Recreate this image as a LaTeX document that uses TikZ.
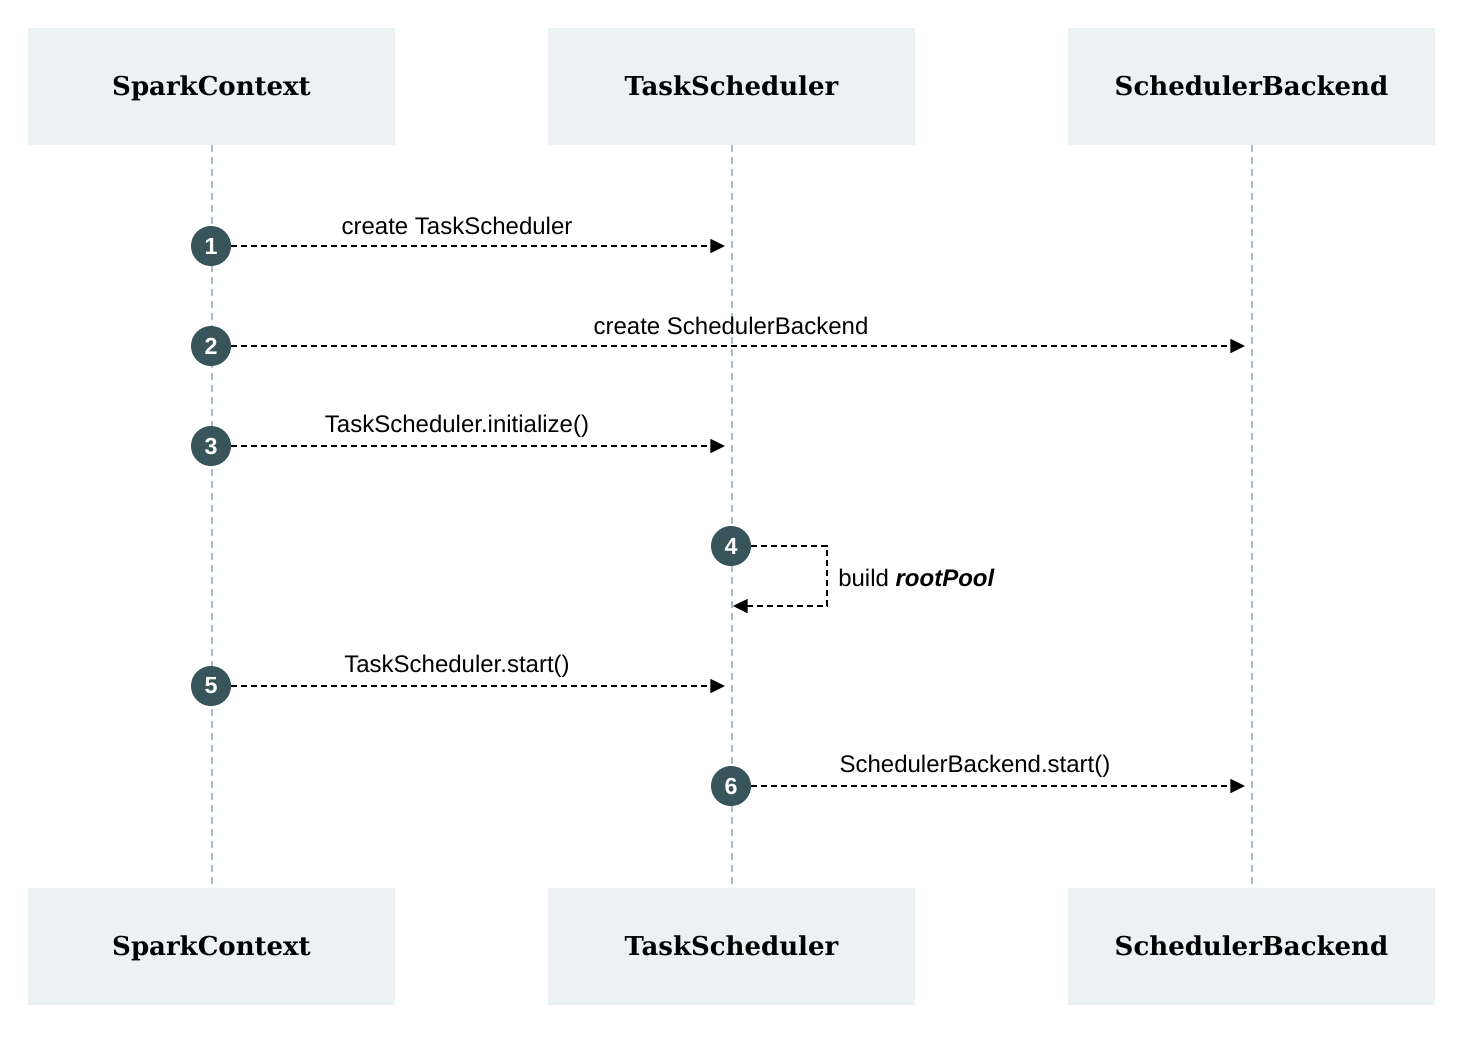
\documentclass[tikz,border=0pt]{standalone}
\usepackage{fontspec}
\setmainfont{Liberation Sans}
\newfontfamily\titlefont{DejaVu Serif}
\usetikzlibrary{arrows.meta}
\definecolor{boxfill}{HTML}{ECF1F4}
\definecolor{stepfill}{HTML}{37555A}
\definecolor{lifecol}{HTML}{A6BFCD}
\tikzset{
  actor/.style={fill=boxfill, draw=none, minimum width=275.25pt, minimum height=87.75pt, inner sep=0pt, text height=15pt, text depth=2pt, font=\titlefont\bfseries\fontsize{19.5}{22}\selectfont},
  lifeline/.style={draw=lifecol, line width=1.5pt, dash pattern=on 5pt off 4pt},
  stepnum/.style={circle, fill=stepfill, minimum size=30pt, inner sep=0pt, text=white, font=\bfseries\fontsize{17.5}{20}\selectfont},
  msg/.style={line width=1.1pt, dash pattern=on 4.5pt off 3pt, -{Triangle[length=11pt, width=10.5pt]}},
  msglabel/.style={font=\fontsize{18}{21}\selectfont, inner sep=0pt}
}
\begin{document}
\begin{tikzpicture}[x=0.75pt, y=-0.75pt]
\useasboundingbox (0,0) rectangle (1473,1043);
% actors
\node[actor] (sc) at (211.5,86.5) {SparkContext};
\node[actor] (ts) at (731.5,86.5) {TaskScheduler};
\node[actor] (sb) at (1251.5,86.5) {SchedulerBackend};
\node[actor] (sc2) at (211.5,946.5) {SparkContext};
\node[actor] (ts2) at (731.5,946.5) {TaskScheduler};
\node[actor] (sb2) at (1251.5,946.5) {SchedulerBackend};
% lifelines
\draw[lifeline] (sc.south) -- (sc2.north);
\draw[lifeline] (ts.south) -- (ts2.north);
\draw[lifeline] (sb.south) -- (sb2.north);
% steps
\node[stepnum] (c1) at (211,246) {1};
\node[stepnum] (c2) at (211,346) {2};
\node[stepnum] (c3) at (211,446) {3};
\node[stepnum] (c4) at (731,546) {4};
\node[stepnum] (c5) at (211,686) {5};
\node[stepnum] (c6) at (731,786) {6};
\coordinate (t1) at (725,246);
\coordinate (t2) at (1245,346);
\coordinate (t3) at (725,446);
\coordinate (t4) at (733,606);
\coordinate (t5) at (725,686);
\coordinate (t6) at (1245,786);
\coordinate (k4a) at (827,546);
\coordinate (k4b) at (827,606);
\draw[msg] (c1) -- (t1);
\draw[msg] (c2) -- (t2);
\draw[msg] (c3) -- (t3);
\draw[msg] (c4) -- (k4a) -- (k4b) -- (t4);
\draw[msg] (c5) -- (t5);
\draw[msg] (c6) -- (t6);
% labels
\node[msglabel] (l1) at (457,226) {create TaskScheduler};
\node[msglabel] (l2) at (731,326) {create SchedulerBackend};
\node[msglabel] (l3) at (457,426) {TaskScheduler.initialize()};
\node[msglabel, anchor=west] (l4) at (838,578) {build \textbf{\textit{rootPool}}};
\node[msglabel] (l5) at (457,666) {TaskScheduler.start()};
\node[msglabel] (l6) at (975,766) {SchedulerBackend.start()};
\end{tikzpicture}
\end{document}
